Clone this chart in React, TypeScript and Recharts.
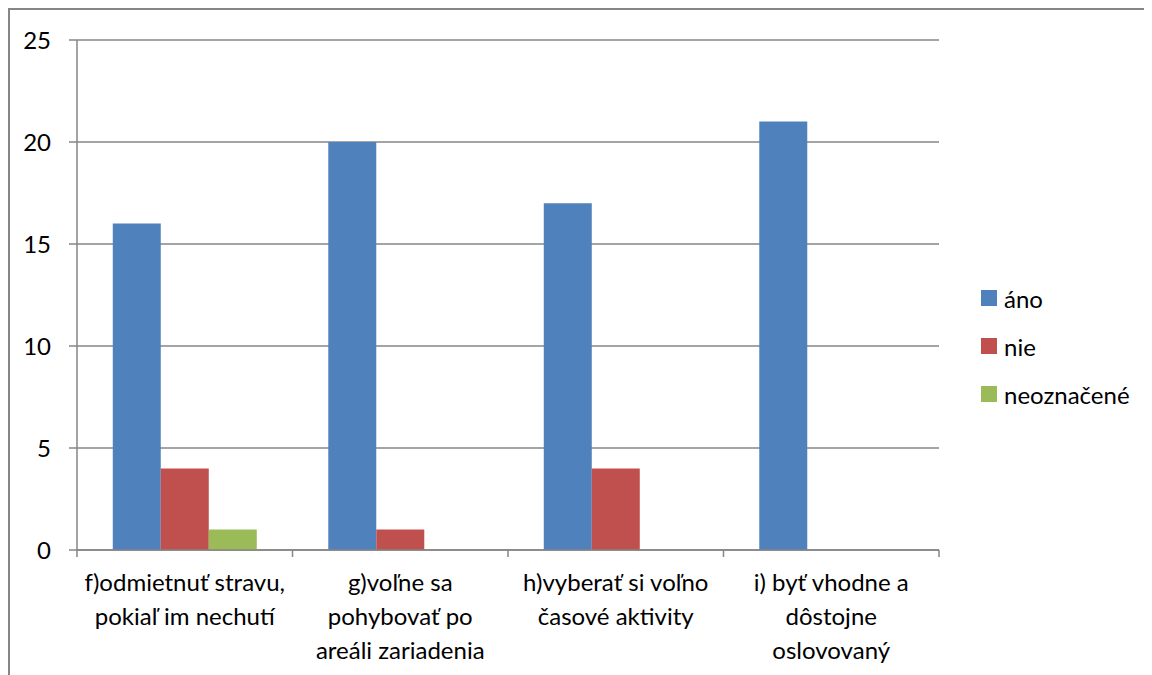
import { Bar, BarChart, CartesianGrid, XAxis, YAxis } from "recharts";

const categories = [
  "f)odmietnuť stravu,\npokiaľ im nechutí",
  "g)voľne sa\npohybovať po\nareáli zariadenia",
  "h)vyberať si voľno\nčasové aktivity",
  "i) byť vhodne a\ndôstojne\noslovovaný",
];
const ano = [16, 20, 17, 21];
const nie = [4, 1, 4, 0];
const neoznacene = [1, 0, 0, 0];
const yTicks = [0, 5, 10, 15, 20, 25];

const series = [
  { key: "ano", name: "áno", color: "#4F81BD" },
  { key: "nie", name: "nie", color: "#C0504D" },
  { key: "neoznacene", name: "neoznačené", color: "#9BBB59" },
];

const data = categories.map((label, i) => ({
  label,
  ano: ano[i],
  nie: nie[i],
  neoznacene: neoznacene[i],
}));

const FONT = "Lato, 'Noto Sans', sans-serif";
const AXIS = "#868686";

function CategoryTick(props: any) {
  const { x, y, payload, index, visibleTicksCount } = props;
  const half = payload.offset ?? 0;
  const lines = String(payload.value).split("\n");
  return (
    <g>
      <line x1={x - half} x2={x - half} y1={y} y2={y + 7} stroke={AXIS} strokeWidth={1.5} />
      {index === visibleTicksCount - 1 && (
        <line x1={x + half} x2={x + half} y1={y} y2={y + 7} stroke={AXIS} strokeWidth={1.5} />
      )}
      <text x={x} y={y} textAnchor="middle" fontFamily={FONT} fontSize={24} fill="#000">
        {lines.map((l, i) => (
          <tspan key={i} x={x} y={y + 41 + i * 34}>
            {l}
          </tspan>
        ))}
      </text>
    </g>
  );
}

export default function App() {
  return (
    <div
      style={{
        position: "relative",
        width: 1144,
        height: 667,
        boxSizing: "border-box",
        borderLeft: `2px solid ${AXIS}`,
        borderTop: `2px solid ${AXIS}`,
        fontFamily: FONT,
        overflow: "hidden",
      }}
    >
      <BarChart
        width={1142}
        height={665}
        data={data}
        margin={{ top: 30, right: 213, bottom: 0, left: 0 }}
        barCategoryGap="16.6%"
        barGap={0}
      >
        <CartesianGrid vertical={false} stroke={AXIS} strokeWidth={1.5} />
        <XAxis
          dataKey="label"
          height={125}
          axisLine={{ stroke: AXIS, strokeWidth: 1.5 }}
          tickLine={false}
          tickSize={0}
          tickMargin={0}
          interval={0}
          tick={<CategoryTick />}
        />
        <YAxis
          width={67}
          domain={[0, 25]}
          ticks={yTicks}
          interval={0}
          axisLine={{ stroke: AXIS, strokeWidth: 1.5 }}
          tickLine={{ stroke: AXIS, strokeWidth: 1.5 }}
          tickSize={8}
          tickMargin={18}
          tick={{ fontFamily: FONT, fontSize: 24, fill: "#000" }}
        />
        {series.map((s) => (
          <Bar key={s.key} dataKey={s.key} name={s.name} fill={s.color} isAnimationActive={false} />
        ))}
      </BarChart>
      <div style={{ position: "absolute", left: 971, top: 264 }}>
        {series.map((s) => (
          <div key={s.key} style={{ display: "flex", alignItems: "center", height: 48 }}>
            <span style={{ width: 16, height: 16, background: s.color, marginRight: 7 }} />
            <span style={{ fontSize: 24, color: "#000" }}>{s.name}</span>
          </div>
        ))}
      </div>
    </div>
  );
}
